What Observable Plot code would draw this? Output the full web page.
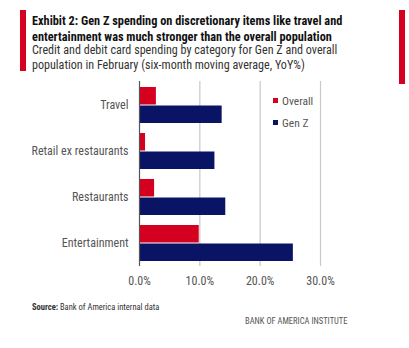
<!DOCTYPE html>
<html><head><meta charset="utf-8">
<script src="https://cdn.jsdelivr.net/npm/d3@7"></script>
<script src="https://cdn.jsdelivr.net/npm/@observablehq/plot@0.6"></script>
<style>
body{margin:0;width:409px;height:348px;position:relative;background:#fff;overflow:hidden;font-family:"Roboto Condensed","Open Sans",sans-serif;color:#222}
.abs{position:absolute;white-space:nowrap}
</style></head><body>
<div class="abs" style="left:20px;top:10px;width:6px;height:61px;background:#d5001f"></div>
<div class="abs" style="left:399px;top:10px;width:6px;height:74px;background:#d5001f"></div>
<div class="abs" id="title" style="left:32px;top:13px;font-size:12.3px;font-weight:bold;line-height:16px;color:#111">Exhibit 2: Gen Z spending on discretionary items like travel and<br>entertainment was much stronger than the overall population</div>
<div class="abs" id="sub" style="left:32px;top:43px;font-size:12.1px;line-height:14.5px;color:#333">Credit and debit card spending by category for Gen Z and overall<br>population in February (six-month moving average, YoY%)</div>
<div class="abs" id="chart" style="left:0;top:75px"></div>
<div class="abs" id="legend" style="left:273px;top:90px;font-size:11.5px;color:#555;line-height:22px"></div>
<div class="abs" style="left:32px;top:302px;font-size:8.5px;color:#333"><b>Source:</b> Bank of America internal data</div>
<div class="abs" style="left:245px;top:316px;font-size:8.5px;color:#555">BANK OF AMERICA INSTITUTE</div>
<script>
const categories = ["Travel", "Retail ex restaurants", "Restaurants", "Entertainment"];
const seriesNames = ["Overall", "Gen Z"];
const seriesColors = ["#d5001f", "#0a1464"];
const overallValues = [2.8, 1.0, 2.5, 9.9];
const genZValues = [13.7, 12.5, 14.3, 25.5];
const xTicks = [0, 10, 20, 30];

const overall = categories.map((c, i) => ({category: c, value: overallValues[i]}));
const genZ = categories.map((c, i) => ({category: c, value: genZValues[i]}));

const chart = Plot.plot({
  width: 409, height: 215,
  marginLeft: 139, marginRight: 89, marginTop: 6, marginBottom: 24,
  style: {fontFamily: "inherit", fontSize: "12px", color: "#555", background: "transparent"},
  x: {domain: [0, 30], ticks: xTicks, tickFormat: d => d.toFixed(1) + "%", tickSize: 0, tickPadding: 10, label: null},
  y: {domain: categories, paddingInner: 0.22, paddingOuter: 0.11, tickSize: 0, tickPadding: 11, label: null},
  marks: [
    Plot.ruleX(xTicks.slice(1), {stroke: "#c8c8c8", strokeWidth: 1.2}),
    Plot.barX(overall, {x: "value", y: "category", fill: seriesColors[0], insetBottom: 18.5}),
    Plot.barX(genZ, {x: "value", y: "category", fill: seriesColors[1], insetTop: 18.5}),
    Plot.ruleX([0], {stroke: "#555", strokeWidth: 1.2})
  ]
});
document.getElementById("chart").appendChild(chart);

document.getElementById("legend").innerHTML = seriesNames.map((s, i) =>
  `<div><span style="display:inline-block;width:5px;height:5px;background:${seriesColors[i]};margin-right:4px;vertical-align:middle;position:relative;top:-1px"></span>${s}</div>`).join("");
</script>
</body></html>
